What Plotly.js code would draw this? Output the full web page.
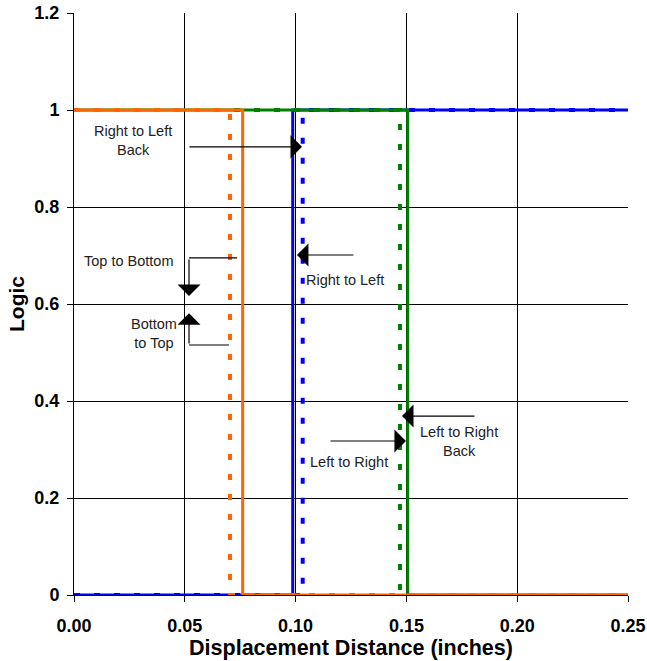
<!DOCTYPE html>
<html>
<head>
<meta charset="utf-8">
<script src="https://cdn.plot.ly/plotly-3.0.1.min.js"></script>
<style>html,body{margin:0;padding:0;background:#fff;}#chart{width:647px;height:661px;}</style>
</head>
<body>
<div id="chart"></div>
<script>
// Step series (x in inches, y logic level)
const xBlueSolid = [0, 0.0987, 0.0987, 0.25];
const yBlueSolid = [0, 0, 1, 1];
const xBlueDot = [0, 0.1032, 0.1032, 0.25];
const yBlueDot = [0, 0, 1, 1];
const xGreenSolid = [0, 0.1506, 0.1506, 0.25];
const yGreenSolid = [1, 1, 0, 0];
const xGreenDot = [0, 0.1471, 0.1471, 0.25];
const yGreenDot = [1, 1, 0, 0];
const xOrangeDot = [0, 0.0704, 0.0704, 0.25];
const yOrangeDot = [1, 1, 0, 0];
const xOrangeSolid = [0, 0.0761, 0.0761, 0.25];
const yOrangeSolid = [1, 1, 0, 0];

const xTicks = [0, 0.05, 0.10, 0.15, 0.20, 0.25];
const xTickText = ['0.00', '0.05', '0.10', '0.15', '0.20', '0.25'];
const yTicks = [0, 0.2, 0.4, 0.6, 0.8, 1, 1.2];
const yTickText = ['0', '0.2', '0.4', '0.6', '0.8', '1', '1.2'];

const BLUE = '#0000FF', GREEN = '#008000', ORANGE = '#FF6600';
const FONT = 'Arial, "Liberation Sans", sans-serif';

function tr(x, y, color, dash, w) {
  return {x: x, y: y, type: 'scatter', mode: 'lines', cliponaxis: false,
    line: {color: color, width: w, dash: dash}, hoverinfo: 'skip', showlegend: false};
}
const traces = [
  tr(xBlueSolid, yBlueSolid, BLUE, 'solid', 3),
  tr(xBlueDot, yBlueDot, BLUE, '6px,14px', 4),
  tr(xGreenSolid, yGreenSolid, GREEN, 'solid', 3),
  tr(xGreenDot, yGreenDot, GREEN, '6px,14px', 4),
  tr(xOrangeDot, yOrangeDot, ORANGE, '6px,14px', 4),
  tr(xOrangeSolid, yOrangeSolid, ORANGE, 'solid', 3)
];

function label(x, y, text) {
  return {x: x, y: y, xref: 'x', yref: 'y', text: text, showarrow: false,
    font: {family: FONT, size: 14.5, color: '#222'}, align: 'center'};
}
function arrow(x, y, ax, ay) {
  return {x: x, y: y, ax: ax, ay: ay, xref: 'x', yref: 'y', axref: 'x', ayref: 'y',
    text: '', showarrow: true, arrowhead: 1, arrowsize: 3.2, arrowwidth: 1.2,
    arrowcolor: '#000', standoff: 0, startstandoff: 0};
}
const annotations = [
  label(0.0266, 0.938, 'Right to Left<br>Back'),
  arrow(0.1029, 0.924, 0.0514, 0.924),
  label(0.1223, 0.6495, 'Right to Left'),
  arrow(0.1006, 0.701, 0.1268, 0.701),
  label(0.0244, 0.689, 'Top to Bottom'),
  arrow(0.0519, 0.6165, 0.0519, 0.695),
  label(0.0361, 0.540, 'Bottom<br>to Top'),
  arrow(0.0519, 0.581, 0.0519, 0.5155),
  label(0.1241, 0.274, 'Left to Right'),
  arrow(0.1498, 0.3175, 0.1151, 0.3175),
  label(0.1737, 0.3155, 'Left to Right<br>Back'),
  arrow(0.148, 0.369, 0.1814, 0.369)
];
const shapes = [
  {type: 'line', xref: 'x', yref: 'y', x0: 0.0736, y0: 0.695, x1: 0.0519, y1: 0.695,
    line: {color: '#000', width: 1.2}},
  {type: 'line', xref: 'x', yref: 'y', x0: 0.0699, y0: 0.5155, x1: 0.0519, y1: 0.5155,
    line: {color: '#000', width: 1.2}}
];

const layout = {
  width: 647, height: 661,
  margin: {l: 74, r: 19, t: 13, b: 66},
  paper_bgcolor: '#fff', plot_bgcolor: '#fff',
  font: {family: FONT, color: '#000'},
  xaxis: {
    range: [0, 0.25], tickvals: xTicks, ticktext: xTickText,
    showgrid: true, gridcolor: '#000', gridwidth: 1,
    showline: true, linecolor: '#000', linewidth: 1,
    ticks: 'outside', ticklen: 6, tickcolor: '#000', zeroline: false,
    ticklabelstandoff: 8,
    tickfont: {family: FONT, size: 18, color: '#000', weight: 'bold'},
    title: {text: '<b>Displacement Distance (inches)</b>', font: {family: FONT, size: 21.5, color: '#000'}, standoff: 3}
  },
  yaxis: {
    range: [0, 1.2], tickvals: yTicks, ticktext: yTickText,
    showgrid: true, gridcolor: '#000', gridwidth: 1,
    showline: true, linecolor: '#000', linewidth: 1,
    ticks: 'outside', ticklen: 6, tickcolor: '#000', zeroline: false,
    ticklabelstandoff: 4,
    tickfont: {family: FONT, size: 18, color: '#000', weight: 'bold'},
    title: {text: '<b>Logic</b>', font: {family: FONT, size: 21, color: '#000'}, standoff: 4}
  },
  annotations: annotations,
  shapes: shapes
};

Plotly.newPlot('chart', traces, layout, {displayModeBar: false, staticPlot: true});
</script>
</body>
</html>
